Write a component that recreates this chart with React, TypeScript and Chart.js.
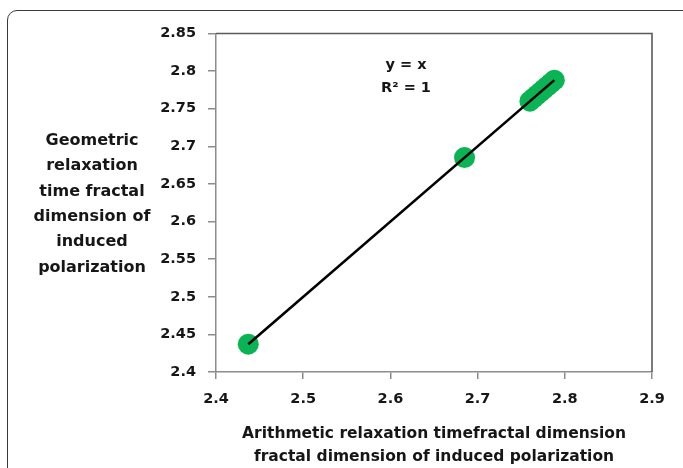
import React, { useEffect, useRef } from "react";
import { Chart, registerables } from "chart.js";

Chart.register(...registerables);

// Data (y = x, R² = 1)
const xValues = [2.437, 2.685, 2.760, 2.764, 2.768, 2.772, 2.776, 2.780, 2.784, 2.788];
const yValues = [2.437, 2.685, 2.760, 2.764, 2.768, 2.772, 2.776, 2.780, 2.784, 2.788];
const trendX = [2.437, 2.788];
const trendY = [2.437, 2.788];
const yTitleLines = ["Geometric", "relaxation", "time fractal", "dimension of", "induced", "polarization"];
const xTitleLines = ["Arithmetic relaxation timefractal dimension", "fractal dimension of induced polarization"];
const equationLines = ["y = x", "R\u00B2 = 1"];

const FONT = "'DejaVu Sans', sans-serif";
const TEXT = "#161616";

const extrasPlugin = {
  id: "extras",
  afterDraw(chart: any) {
    const { ctx, chartArea } = chart;
    ctx.save();
    // plot area top & right border
    ctx.strokeStyle = "#5a5a5a";
    ctx.lineWidth = 1.6;
    ctx.beginPath();
    ctx.moveTo(chartArea.left, chartArea.top);
    ctx.lineTo(chartArea.right, chartArea.top);
    ctx.lineTo(chartArea.right, chartArea.bottom);
    ctx.stroke();
    // horizontal y-axis title
    ctx.fillStyle = TEXT;
    ctx.font = `bold 16px ${FONT}`;
    ctx.textAlign = "center";
    ctx.textBaseline = "middle";
    yTitleLines.forEach((t, i) => ctx.fillText(t, 92, 141 + i * 25.3));
    // trendline equation
    ctx.font = `bold 14.5px ${FONT}`;
    equationLines.forEach((t, i) => ctx.fillText(t, 406, 65 + i * 23));
    ctx.restore();
  },
};

export default function App() {
  const ref = useRef<HTMLCanvasElement | null>(null);

  useEffect(() => {
    document.body.style.margin = "0";
    const canvas = ref.current;
    if (!canvas) return;
    const chart = new Chart(canvas, {
      type: "scatter",
      data: {
        datasets: [
          {
            type: "line",
            data: trendX.map((x, i) => ({ x, y: trendY[i] })),
            borderColor: "#000000",
            borderWidth: 2.6,
            pointRadius: 0,
            fill: false,
          } as any,
          {
            data: xValues.map((x, i) => ({ x, y: yValues[i] })),
            backgroundColor: "#0ab454",
            borderColor: "#0ab454",
            pointRadius: 10.5,
            pointBorderWidth: 0,
          },
        ],
      },
      options: {
        responsive: false,
        animation: false,
        layout: { padding: { top: 33.5, right: 31, left: 0, bottom: 0 } },
        plugins: { legend: { display: false }, tooltip: { enabled: false } },
        scales: {
          x: {
            type: "linear",
            min: 2.4,
            max: 2.9,
            ticks: {
              stepSize: 0.1,
              padding: 12,
              color: TEXT,
              font: { family: FONT, size: 14.5, weight: "bold" },
              callback: (v: any) => String(+Number(v).toFixed(2)),
            },
            grid: { drawOnChartArea: false, drawTicks: true, tickLength: 7, color: "#8c8c8c", lineWidth: 1.5 },
            border: { display: true, color: "#8c8c8c", width: 1.5 },
            title: {
              display: true,
              text: xTitleLines,
              color: TEXT,
              font: { family: FONT, size: 15.5, weight: "bold", lineHeight: "23px" },
              padding: { top: 0, bottom: 0 },
            },
            afterFit: (s: any) => {
              s.height = 96;
            },
          },
          y: {
            type: "linear",
            min: 2.4,
            max: 2.85,
            ticks: {
              stepSize: 0.05,
              padding: 12,
              color: TEXT,
              font: { family: FONT, size: 14.5, weight: "bold" },
              callback: (v: any) => String(+Number(v).toFixed(2)),
            },
            grid: { drawOnChartArea: false, drawTicks: true, tickLength: 8, color: "#8c8c8c", lineWidth: 1.5 },
            border: { display: true, color: "#8c8c8c", width: 1.5 },
            afterFit: (s: any) => {
              s.width = 216;
            },
          },
        },
      } as any,
      plugins: [extrasPlugin],
    });
    return () => chart.destroy();
  }, []);

  return (
    <div style={{ position: "relative", width: 683, height: 468, overflow: "hidden", background: "#fff" }}>
      <div
        style={{
          position: "absolute",
          left: 7,
          top: 10,
          width: 720,
          height: 520,
          border: "1.6px solid #3a3a3a",
          borderRadius: 10,
          boxSizing: "border-box",
        }}
      />
      <canvas ref={ref} width={683} height={468} style={{ position: "absolute", left: 0, top: 0, width: 683, height: 468 }} />
    </div>
  );
}
